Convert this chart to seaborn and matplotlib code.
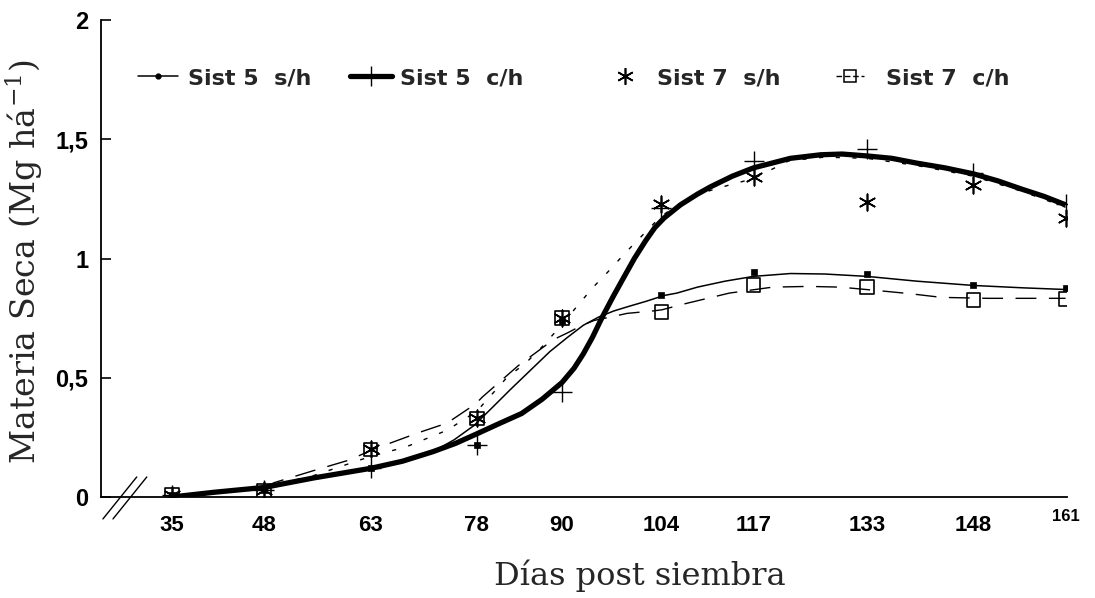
import numpy as np
import pandas as pd
import matplotlib
matplotlib.use("Agg")
import matplotlib.pyplot as plt
from matplotlib.lines import Line2D
import seaborn as sns

# ---------------- data ----------------
days = [35, 48, 63, 78, 90, 104, 117, 133, 148, 161]
tick_labels = ["35", "48", "63", "78", "90", "104", "117", "133", "148", "161"]
y_ticks = [0, 0.5, 1, 1.5, 2]
y_tick_labels = ["0", "0,5", "1", "1,5", "2"]

s5_sh = [0.01, 0.03, 0.12, 0.22, 0.74, 0.845, 0.945, 0.937, 0.89, 0.875]
s5_ch = [0.01, 0.03, 0.12, 0.22, 0.44, 1.21, 1.41, 1.46, 1.36, 1.23]
s7_sh = [0.01, 0.03, 0.20, 0.33, 0.75, 1.23, 1.34, 1.235, 1.31, 1.17]
s7_ch = [0.01, 0.025, 0.20, 0.33, 0.75, 0.775, 0.89, 0.88, 0.825, 0.83]

# fitted curves as drawn in the reference
fit5ch_days = [35, 41, 48, 55, 63, 67.5, 71.8, 75, 78, 81.3, 84.3, 87.2, 90, 91.7,
               93, 94.3, 95.6, 97.2, 98.6, 100.2, 101.8, 103.1, 104.4, 106.7, 109.1,
               110.9, 114, 117, 119.6, 122.2, 126.5, 129.5, 133, 136.5, 140, 144,
               148, 151.5, 154.9, 158, 161]
fit5ch = [0.0, 0.02, 0.04, 0.08, 0.12, 0.15, 0.19, 0.225, 0.265, 0.31, 0.35, 0.41,
          0.48, 0.54, 0.60, 0.67, 0.75, 0.84, 0.915, 1.0, 1.075, 1.13, 1.17, 1.225,
          1.27, 1.30, 1.345, 1.38, 1.40, 1.42, 1.435, 1.438, 1.43, 1.42, 1.40, 1.38,
          1.355, 1.325, 1.29, 1.26, 1.225]

fit5sh_days = [35, 48, 55, 63, 68, 72.4, 74.8, 77.6, 80.0, 82.7, 85.5, 88.3, 90.8,
               93.0, 95.2, 97.3, 99.5, 101.8, 104.4, 106.2, 109.1, 113, 117, 122.2,
               127, 133, 140, 148, 155, 161]
fit5sh = [0.0, 0.04, 0.08, 0.12, 0.155, 0.2, 0.24, 0.30, 0.37, 0.45, 0.53, 0.61,
          0.67, 0.72, 0.755, 0.78, 0.80, 0.82, 0.845, 0.855, 0.88, 0.905, 0.925,
          0.937, 0.935, 0.925, 0.905, 0.887, 0.877, 0.87]

fit7ch_days = [48, 49.4, 54.9, 60, 63.4, 69.8, 73.8, 77.8, 78.8, 83.8, 88.8, 90.9,
               92.5, 94.5, 96.9, 99.2, 102.8, 104.1, 107.3, 113.6, 119.7, 124.8,
               129.2, 134.7, 138.9, 143.5, 150, 161]
fit7ch = [0.04, 0.06, 0.11, 0.155, 0.2, 0.27, 0.31, 0.39, 0.42, 0.55, 0.66, 0.69,
          0.715, 0.74, 0.755, 0.77, 0.78, 0.785, 0.81, 0.855, 0.88, 0.883,
          0.88, 0.865, 0.853, 0.837, 0.833, 0.833]

fit7sh_days = [48, 55, 63, 68, 73.8, 78, 82.2, 85.0, 87.2, 89.3, 91, 92.7, 94.4,
               96.2, 98.2, 100.1, 102.1, 103.7, 106, 108.5, 110.9, 113.8, 117, 122,
               127, 133, 140, 148, 155, 161]
fit7sh = [0.04, 0.09, 0.17, 0.21, 0.28, 0.36, 0.50, 0.565, 0.63, 0.70, 0.76, 0.82,
          0.88, 0.935, 1.0, 1.06, 1.12, 1.17, 1.22, 1.26, 1.285, 1.31, 1.335, 1.41,
          1.425, 1.42, 1.39, 1.345, 1.28, 1.215]

legend_labels = ["Sist 5  s/h", "Sist 5  c/h", "Sist 7  s/h", "Sist 7  c/h"]
xlabel = "Días post siembra"
ylabel = "Materia Seca (Mg há$^{-1}$)"

# ---------------- style ----------------
sns.set_style("white")
plt.rcParams["font.family"] = ["Liberation Sans", "DejaVu Sans"]
plt.rcParams["mathtext.fontset"] = "dejavuserif"

W, H = 1095, 598
fig = plt.figure(figsize=(W / 100, H / 100), dpi=100)
ax = fig.add_axes([101 / W, 1 - 497 / H, 966 / W, 477 / H])

K = "black"
ASTER = (6, 2, 0)

# curves
sns.lineplot(x=fit5sh_days, y=fit5sh, ax=ax, color=K, lw=1.1, sort=False,
             errorbar=None, zorder=3)
sns.lineplot(x=fit7ch_days, y=fit7ch, ax=ax, color=K, lw=1.0, sort=False,
             errorbar=None, linestyle=(0, (15, 9)), zorder=3)
sns.lineplot(x=fit7sh_days, y=fit7sh, ax=ax, color=K, lw=1.0, sort=False,
             errorbar=None, linestyle=(0, (3, 9)), zorder=3)
sns.lineplot(x=fit5ch_days, y=fit5ch, ax=ax, color=K, lw=3.8, sort=False,
             errorbar=None, zorder=4, solid_capstyle="butt", solid_joinstyle="round")

# observed points
sns.scatterplot(x=days, y=s7_ch, ax=ax, marker="s", s=95, facecolor="none",
                edgecolor=K, linewidth=1.2, zorder=5)
sns.scatterplot(x=days, y=s7_sh, ax=ax, marker=ASTER, s=140, color=K,
                linewidth=1.2, zorder=6)
sns.scatterplot(x=days, y=s5_ch, ax=ax, marker="+", s=200, color=K,
                linewidth=1.0, zorder=6)
sns.scatterplot(x=days, y=s5_sh, ax=ax, marker="s", s=14, color=K,
                edgecolor=K, linewidth=0.5, zorder=6)

# axes
ax.set_xlim(25.0, 161.2)
ax.set_ylim(0, 2)
sns.despine(ax=ax)
for side in ("left", "bottom"):
    ax.spines[side].set_color(K)
    ax.spines[side].set_linewidth(1.3)

ax.set_xticks(days)
ax.set_xticklabels(tick_labels, fontsize=16, fontweight="bold")
ax.tick_params(axis="x", length=0, pad=13, colors=K)
ax.set_yticks(y_ticks)
ax.set_yticklabels(y_tick_labels, fontsize=17, fontweight="bold")
ax.tick_params(axis="y", direction="in", length=7, width=1.2, pad=9,
               colors=K, left=True)
last = ax.get_xticklabels()[-1]
last.set_fontsize(12)
last.set_y(0.012)

ax.set_xlabel("")
ax.set_ylabel("")
fig.text(640 / W, 1 - 576 / H, xlabel, family="DejaVu Serif", fontsize=23,
         ha="center", va="center")
fig.text(24 / W, 1 - 262 / H, ylabel, family="DejaVu Serif", fontsize=24,
         rotation=90, ha="center", va="center")

# axis break marks
for off in (0.0, 0.0104):
    ax.plot([0.002 + off, 0.037 + off], [-0.046, 0.042], transform=ax.transAxes,
            color=K, lw=1.0, clip_on=False)

# legend: four entries placed along the top as in the reference
FS = 16
fs_px = FS * 100 / 72
handles = [
    Line2D([], [], color=K, lw=1.1, marker="o", markersize=3.5),
    Line2D([], [], color=K, lw=3.8, marker="+", markersize=14, markeredgewidth=1.0),
    Line2D([], [], color=K, lw=0, linestyle="none", marker=ASTER, markersize=12,
           markeredgewidth=1.2),
    Line2D([], [], color=K, lw=1.0, linestyle=(0, (4, 2)), marker="s",
           markersize=9, markerfacecolor="none", markeredgewidth=1.1),
]
# (handle left px, handle length px, gap to text px)
leg_layout = [(138, 40, 10), (350, 42, 8), (605, 40, 12), (836, 28, 22)]
for h, lab, (x0, hl, gap) in zip(handles, legend_labels, leg_layout):
    fig.legend([h], [lab], loc="center left",
               bbox_to_anchor=(x0 / W, 1 - 78 / H), frameon=False,
               prop={"family": "DejaVu Sans", "weight": "bold", "size": FS},
               handlelength=hl / fs_px, handletextpad=gap / fs_px,
               borderpad=0, borderaxespad=0)

fig.savefig("out.png", dpi=100, facecolor="white")
